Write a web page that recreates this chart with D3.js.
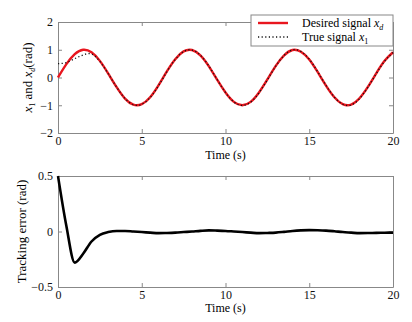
<!DOCTYPE html>
<html>
<head>
<meta charset="utf-8">
<script src="https://cdn.jsdelivr.net/npm/d3@7"></script>
<style>
  body { margin: 0; background: #fff; }
  svg text { font-family: "Liberation Serif", "Times New Roman", "DejaVu Serif", serif !important; }
</style>
</head>
<body>
<div id="chart"></div>
<script>
// sampled every 0.5 s
var time = [0,0.5,1,1.5,2,2.5,3,3.5,4,4.5,5,5.5,6,6.5,7,7.5,8,8.5,9,9.5,10,
            10.5,11,11.5,12,12.5,13,13.5,14,14.5,15,15.5,16,16.5,17,17.5,18,18.5,19,19.5,20];
var desired = [0,0.48,0.84,1.0,0.91,0.6,0.14,-0.35,-0.76,-0.98,-0.96,-0.71,-0.28,0.22,0.66,0.94,0.99,0.8,0.41,-0.08,-0.54,
               -0.88,-1.0,-0.88,-0.54,-0.07,0.42,0.8,0.99,0.93,0.65,0.2,-0.29,-0.71,-0.96,-0.98,-0.75,-0.34,0.15,0.6,0.91];
var error = [0.5,0.05,-0.28,-0.2,-0.09,-0.03,-0.005,0.005,0.005,0.0,-0.005,-0.01,-0.015,-0.013,-0.01,-0.005,0.0,0.006,0.01,0.008,0.005,
             0.0,-0.005,-0.01,-0.015,-0.013,-0.01,-0.003,0.005,0.01,0.012,0.011,0.008,0.002,-0.005,-0.01,-0.015,-0.014,-0.012,-0.011,-0.01];
var truth = [0.5,0.54,0.68,0.81,0.85,0.58,0.135,-0.345,-0.755,-0.98,-0.965,-0.72,-0.295,0.207,0.65,0.935,0.99,0.806,0.42,-0.072,-0.535,
             -0.88,-1.005,-0.89,-0.555,-0.083,0.41,0.797,0.995,0.94,0.662,0.211,-0.282,-0.708,-0.965,-0.99,-0.765,-0.354,0.138,0.589,0.9];

var xTicks = [0,5,10,15,20];
var topTicks = [-2,-1,0,1,2];
var botTicks = [-0.5,0,0.5];

var width = 412, height = 322;
var left = 58, right = 393;
var serif = '"Liberation Serif", "Times New Roman", serif';

var svg = d3.select('#chart').append('svg')
  .attr('width', width).attr('height', height)
  .attr('font-family', serif);

var x = d3.scaleLinear().domain([0,20]).range([left, right]);
var yTop = d3.scaleLinear().domain([-2,2]).range([133, 22]);
var yBot = d3.scaleLinear().domain([-0.5,0.5]).range([287, 176]);

var fmt = function(d) { return d < 0 ? '\u2212' + Math.abs(d) : String(d); };

function frame(y, yt, top, bottom) {
  var g = svg.append('g');
  g.append('g').attr('transform', 'translate(0,' + bottom + ')')
    .call(d3.axisBottom(x).tickValues(xTicks).tickSize(-4).tickSizeOuter(0).tickPadding(3).tickFormat(fmt));
  g.append('g').attr('transform', 'translate(0,' + top + ')')
    .call(d3.axisTop(x).tickValues(xTicks).tickSize(-4).tickSizeOuter(0).tickFormat(''));
  g.append('g').attr('transform', 'translate(' + left + ',0)')
    .call(d3.axisLeft(y).tickValues(yt).tickSize(-4).tickSizeOuter(0).tickPadding(5).tickFormat(fmt));
  g.append('g').attr('transform', 'translate(' + right + ',0)')
    .call(d3.axisRight(y).tickValues(yt).tickSize(-4).tickSizeOuter(0).tickFormat(''));
  g.selectAll('g').attr('font-family', serif);
  g.selectAll('.domain').attr('stroke', '#888');
  g.selectAll('.tick line').attr('stroke', '#888');
  g.selectAll('.tick text').attr('font-size', 12).attr('fill', '#111');
  return g;
}

frame(yTop, topTicks, 22, 133);
frame(yBot, botTicks, 176, 287);

var pts = function(arr) { return time.map(function(t, i) { return [t, arr[i]]; }); };

var lineTop = d3.line().x(function(d) { return x(d[0]); }).y(function(d) { return yTop(d[1]); })
  .curve(d3.curveNatural);
var lineBot = d3.line().x(function(d) { return x(d[0]); }).y(function(d) { return yBot(d[1]); })
  .curve(d3.curveMonotoneX);

svg.append('path').datum(pts(desired)).attr('d', lineTop)
  .attr('fill', 'none').attr('stroke', '#e8161e').attr('stroke-width', 2.4);
svg.append('path').datum(pts(truth)).attr('d', lineTop)
  .attr('fill', 'none').attr('stroke', '#111').attr('stroke-width', 1.3)
  .attr('stroke-dasharray', '1.2,2.4');

svg.append('path').datum(pts(error)).attr('d', lineBot)
  .attr('fill', 'none').attr('stroke', '#000').attr('stroke-width', 2.6);

// axis titles
svg.append('text').attr('x', x(10)).attr('y', 159).attr('text-anchor', 'middle')
  .attr('font-size', 12).text('Time (s)');
svg.append('text').attr('x', x(10)).attr('y', 312).attr('text-anchor', 'middle')
  .attr('font-size', 12).text('Time (s)');

var yl = svg.append('text').attr('transform', 'translate(32,' + yTop(0) + ') rotate(-90)')
  .attr('text-anchor', 'middle').attr('font-size', 13);
yl.append('tspan').attr('font-style', 'italic').text('x');
yl.append('tspan').attr('font-size', 8).attr('dy', 3).text('1');
yl.append('tspan').attr('dy', -3).text(' and ');
yl.append('tspan').attr('font-style', 'italic').text('x');
yl.append('tspan').attr('font-size', 8).attr('font-style', 'italic').attr('dy', 3).text('d');
yl.append('tspan').attr('dy', -3).text('(rad)');

svg.append('text').attr('transform', 'translate(26,' + yBot(0) + ') rotate(-90)')
  .attr('text-anchor', 'middle').attr('font-size', 13).text('Tracking error (rad)');

// legend
var lg = svg.append('g');
lg.append('rect').attr('x', 251).attr('y', 15).attr('width', 142).attr('height', 31)
  .attr('fill', '#fff').attr('stroke', '#888');
lg.append('line').attr('x1', 258).attr('x2', 288).attr('y1', 23).attr('y2', 23)
  .attr('stroke', '#e8161e').attr('stroke-width', 2.4);
lg.append('line').attr('x1', 258).attr('x2', 288).attr('y1', 37).attr('y2', 37)
  .attr('stroke', '#111').attr('stroke-width', 1.3).attr('stroke-dasharray', '1.2,2.4');
var t1 = lg.append('text').attr('x', 302).attr('y', 27).attr('font-size', 12);
t1.append('tspan').text('Desired signal ');
t1.append('tspan').attr('font-style', 'italic').text('x');
t1.append('tspan').attr('font-style', 'italic').attr('font-size', 8).attr('dy', 3).text('d');
var t2 = lg.append('text').attr('x', 302).attr('y', 41).attr('font-size', 12);
t2.append('tspan').text('True signal ');
t2.append('tspan').attr('font-style', 'italic').text('x');
t2.append('tspan').attr('font-size', 8).attr('dy', 3).text('1');
</script>
</body>
</html>
